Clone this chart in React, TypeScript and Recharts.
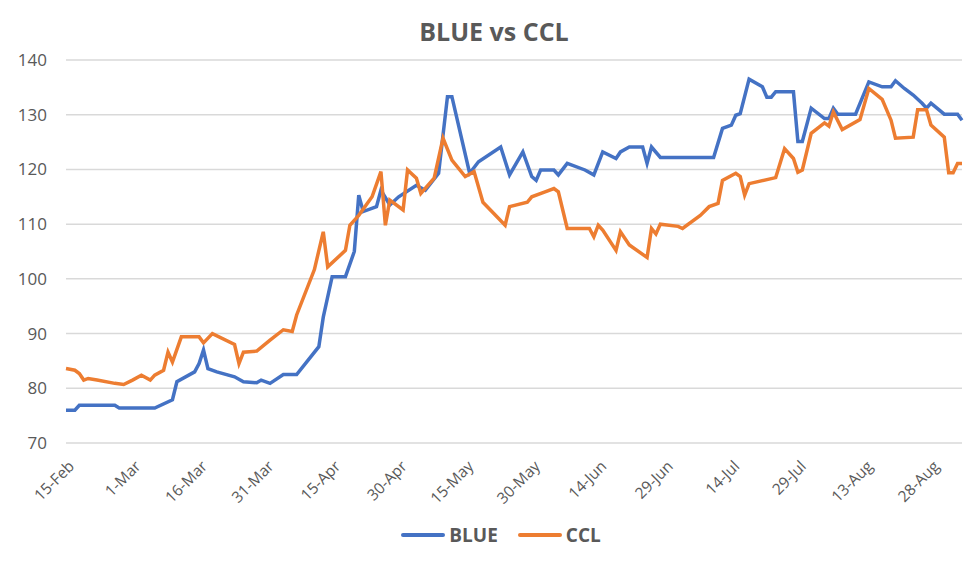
import { LineChart, Line, XAxis, YAxis, CartesianGrid, Legend } from 'recharts';

// days counted from 15-Feb
const blueDays = [0, 2, 3, 11, 12, 20, 24, 25, 29, 30, 31, 32, 34, 38, 40, 43, 44, 46, 49, 52, 57, 58, 60, 63, 65, 66, 67, 70, 71, 73, 75, 79, 81, 84, 86, 87, 91, 93, 98, 100, 103, 105, 106, 107, 110, 111, 113, 117, 119, 121, 124, 125, 127, 130, 131, 132, 134, 146, 148, 150, 151, 152, 154, 157, 158, 159, 160, 164, 165, 166, 168, 171, 172, 173, 174, 178, 181, 184, 186, 187, 189, 191, 193, 194, 195, 198, 201, 202];
const blueValues = [76, 76, 76.9, 76.9, 76.4, 76.4, 77.9, 81.2, 83, 84.5, 87, 83.6, 83, 82.1, 81.2, 81, 81.5, 80.9, 82.5, 82.5, 87.6, 93, 100.4, 100.4, 105, 115.3, 112.3, 113.2, 116.2, 113.5, 115, 117.1, 116.2, 119.3, 133.3, 133.3, 119.3, 121.4, 124.1, 119, 123.2, 118.7, 118, 119.9, 119.9, 119, 121.1, 119.9, 119, 123.2, 122, 123.2, 124.1, 124.1, 121.1, 124.1, 122.2, 122.2, 127.5, 128.1, 129.9, 130.2, 136.5, 135.1, 133.2, 133.2, 134.2, 134.2, 125.1, 125.1, 131.2, 129.3, 129.3, 131.2, 130.1, 130.1, 136, 135.1, 135.1, 136.2, 134.8, 133.6, 132.1, 131.2, 132.1, 130.1, 130.1, 129];

const cclDays = [0, 2, 3, 4, 5, 7, 11, 13, 15, 17, 19, 20, 22, 23, 24, 26, 30, 31, 33, 38, 39, 40, 43, 46, 49, 51, 52, 56, 58, 59, 63, 64, 66, 69, 71, 72, 73, 76, 77, 79, 80, 83, 85, 87, 90, 92, 94, 99, 100, 104, 105, 108, 110, 111, 113, 118, 119, 120, 121, 124, 125, 127, 131, 132, 133, 134, 138, 139, 143, 145, 147, 148, 151, 152, 153, 154, 160, 162, 164, 165, 166, 168, 171, 172, 173, 175, 179, 181, 184, 186, 187, 191, 192, 194, 195, 198, 199, 200, 201, 202];
const cclValues = [83.6, 83.3, 82.7, 81.5, 81.8, 81.5, 80.9, 80.7, 81.5, 82.4, 81.5, 82.4, 83.3, 86.6, 84.8, 89.4, 89.4, 88.3, 90, 88, 84.5, 86.6, 86.8, 88.8, 90.7, 90.4, 93.4, 101.7, 108.6, 102.2, 105.2, 109.8, 111.6, 115, 119.6, 109.8, 114.4, 112.6, 119.9, 118.4, 115.6, 118.4, 125.7, 121.7, 118.7, 119.6, 114, 109.8, 113.2, 114, 115, 115.9, 116.5, 115.9, 109.2, 109.2, 107.7, 109.8, 108.9, 105.2, 108.6, 106.2, 103.9, 109.2, 108.2, 110, 109.6, 109.2, 111.6, 113.2, 113.8, 118, 119.3, 118.7, 115.3, 117.4, 118.5, 123.8, 122, 119.5, 119.9, 126.6, 128.5, 127.9, 130.5, 127.3, 129.1, 134.8, 132.8, 129, 125.7, 125.9, 130.9, 130.9, 128.1, 125.9, 119.4, 119.4, 121.1, 121.1];

const tickDays = [0, 15, 30, 45, 60, 75, 90, 105, 120, 135, 150, 165, 180, 195];
const tickLabels = ['15-Feb', '1-Mar', '16-Mar', '31-Mar', '15-Apr', '30-Apr', '15-May', '30-May', '14-Jun', '29-Jun', '14-Jul', '29-Jul', '13-Aug', '28-Aug'];
const yTicks = [70, 80, 90, 100, 110, 120, 130, 140];

const blueData = blueDays.map((d, i) => ({ day: d, value: blueValues[i] }));
const cclData = cclDays.map((d, i) => ({ day: d, value: cclValues[i] }));

const FONT = '"Open Sans", "Noto Sans", sans-serif';
const TEXT = '#595959';

function DateTick({ x, y, payload }: any) {
  const idx = tickDays.indexOf(payload.value);
  return (
    <g transform={`translate(${x + 5},${y + 12})`}>
      <text transform="rotate(-45)" textAnchor="end" dy={6} fill={TEXT} fontSize={15.5} fontFamily={FONT}>
        {tickLabels[idx]}
      </text>
    </g>
  );
}

function LegendBox() {
  const items = [
    { name: 'BLUE', color: '#4472C4' },
    { name: 'CCL', color: '#ED7D31' },
  ];
  return (
    <div style={{ display: 'flex', justifyContent: 'center', gap: 20, paddingLeft: 22, fontFamily: FONT }}>
      {items.map((it) => (
        <div key={it.name} style={{ display: 'flex', alignItems: 'center', gap: 4 }}>
          <div style={{ width: 44, height: 4, borderRadius: 2, background: it.color }} />
          <span style={{ fontSize: 19, fontWeight: 700, color: TEXT }}>{it.name}</span>
        </div>
      ))}
    </div>
  );
}

export default function App() {
  return (
    <div style={{ position: 'absolute', left: 0, top: 0, width: 980, height: 564, background: '#fff' }}>
      <div
        style={{
          position: 'absolute',
          top: 14,
          left: 4,
          width: 980,
          textAlign: 'center',
          fontFamily: FONT,
          fontWeight: 700,
          fontSize: 25,
          color: TEXT,
        }}
      >
        BLUE vs CCL
      </div>
      <LineChart width={980} height={564} margin={{ top: 60, right: 18, bottom: 0, left: 0 }}>
        <CartesianGrid vertical={false} stroke="#D9D9D9" strokeWidth={1.5} />
        <XAxis
          type="number"
          dataKey="day"
          domain={[0, 202]}
          ticks={tickDays}
          interval={0}
          axisLine={false}
          tickLine={false}
          height={95}
          tick={<DateTick />}
        />
        <YAxis
          type="number"
          domain={[70, 140]}
          ticks={yTicks}
          axisLine={false}
          tickLine={false}
          tickSize={0}
          tickMargin={19}
          width={66}
          tick={{ fill: TEXT, fontSize: 17, fontFamily: FONT }}
        />
        <Legend
          verticalAlign="bottom"
          content={<LegendBox />}
          wrapperStyle={{ top: 522, left: 0, width: 980 }}
        />
        <Line
          data={blueData}
          dataKey="value"
          name="BLUE"
          stroke="#4472C4"
          strokeWidth={3.5}
          dot={false}
          isAnimationActive={false}
        />
        <Line
          data={cclData}
          dataKey="value"
          name="CCL"
          stroke="#ED7D31"
          strokeWidth={3.5}
          dot={false}
          isAnimationActive={false}
        />
      </LineChart>
    </div>
  );
}
